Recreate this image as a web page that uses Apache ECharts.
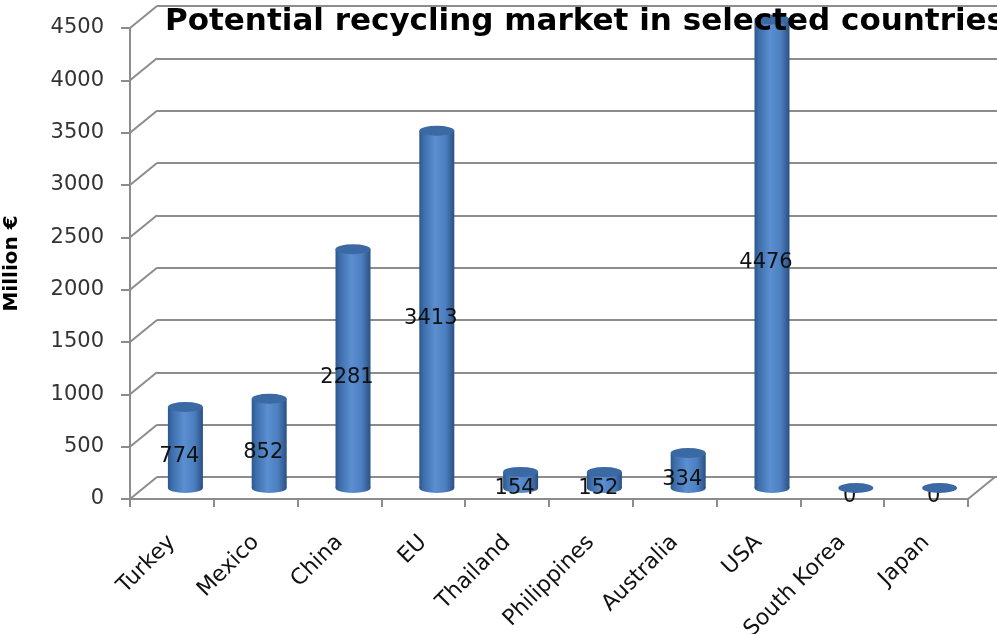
<!DOCTYPE html>
<html><head><meta charset="utf-8">
<script src="https://cdn.jsdelivr.net/npm/echarts@6/dist/echarts.min.js"></script>
<style>html,body{margin:0;padding:0;background:#fff}#c{width:997px;height:634px}</style>
</head><body><div id="c"></div>
<script>
var categories = ['Turkey','Mexico','China','EU','Thailand','Philippines','Australia','USA','South Korea','Japan'];
var values = [774, 852, 2281, 3413, 154, 152, 334, 4476, 0, 0];
var yTicks = [0, 500, 1000, 1500, 2000, 2500, 3000, 3500, 4000, 4500];
var titleText = 'Potential recycling market in selected countries';
var yName = 'Million €';

var DX = 27, DY = -22;
var gridColor = '#8c8c8c';
var barGrad = new echarts.graphic.LinearGradient(0,0,1,0,[
  {offset:0, color:'#2c578c'},{offset:0.12, color:'#3d6dab'},{offset:0.45, color:'#5b8fd1'},
  {offset:0.75, color:'#4c7fc0'},{offset:0.92, color:'#365f97'},{offset:1, color:'#2a4f82'}]);

var chart = echarts.init(document.getElementById('c'), null, {renderer:'canvas'});
chart.setOption({
  animation:false,
  backgroundColor:'#ffffff',
  title:{text:titleText, left:160, top:1, textStyle:{fontFamily:'DejaVu Sans', fontWeight:'bold', fontSize:31, color:'#000'}},
  grid:[
    {left:130, right:29, top:28, bottom:135, outerBoundsMode:'none', containLabel:false},
    {left:157, right:0, top:6, bottom:157, outerBoundsMode:'none', containLabel:false},
    {left:143.5, right:15.5, top:17, bottom:146, outerBoundsMode:'none', containLabel:false}
  ],
  xAxis:[
    {gridIndex:0, type:'category', data:categories, boundaryGap:true,
     axisLine:{lineStyle:{color:gridColor, width:2}},
     axisTick:{show:true, length:8, lineStyle:{color:gridColor, width:2}},
     axisLabel:{rotate:45, margin:40, fontFamily:'DejaVu Sans', fontSize:22, color:'#111', interval:0}},
    {gridIndex:1, type:'category', data:categories, show:false},
    {gridIndex:2, type:'category', data:categories, show:false}
  ],
  yAxis:[
    {gridIndex:0, type:'value', min:0, max:4500, interval:500,
     name:yName, nameLocation:'middle', nameGap:108, nameRotate:90,
     nameTextStyle:{fontFamily:'DejaVu Sans', fontWeight:'bold', fontSize:20, color:'#000'},
     axisLine:{show:true, lineStyle:{color:gridColor, width:2}},
     axisTick:{show:true, length:9, lineStyle:{color:gridColor, width:2}},
     axisLabel:{margin:26, fontFamily:'DejaVu Sans', fontSize:21, color:'#333', formatter:function(v){return String(v);}},
     splitLine:{show:false}},
    {gridIndex:1, type:'value', min:0, max:4500, interval:500,
     axisLine:{show:false}, axisTick:{show:false}, axisLabel:{show:false},
     splitLine:{show:true, lineStyle:{color:gridColor, width:2}}},
    {gridIndex:2, type:'value', min:0, max:4500, interval:500, show:false, splitLine:{show:false}}
  ],
  series:[
    {type:'custom', xAxisIndex:0, yAxisIndex:0, data:yTicks.map(function(v){return [0, v];}), silent:true, z:1,
     renderItem:function(params, api){
       var cs = params.coordSys;
       var v = api.value(1);
       var y = api.coord([0, v])[1];
       var children = [{type:'line', shape:{x1:cs.x, y1:y, x2:cs.x+DX, y2:y+DY},
         style:{stroke:gridColor, lineWidth:2}}];
       if (v === 0) {
         children.push({type:'line', shape:{x1:cs.x+cs.width, y1:y, x2:cs.x+cs.width+DX, y2:y+DY},
           style:{stroke:gridColor, lineWidth:2}});
       }
       return {type:'group', children:children};
     }},
    {type:'pictorialBar', xAxisIndex:2, yAxisIndex:2, data:values.map(function(v){return v>0?v:'-';}),
     symbol:'circle', symbolSize:[35,10], symbolPosition:'start', symbolOffset:[0,'50%'],
     itemStyle:{color:barGrad}, z:3, silent:true},
    {type:'bar', xAxisIndex:2, yAxisIndex:2, data:values, barWidth:35, z:4,
     itemStyle:{color:barGrad},
     label:{show:true, position:'inside', offset:[-6,9], fontFamily:'DejaVu Sans', fontSize:21, color:'#111'}},
    {type:'pictorialBar', xAxisIndex:2, yAxisIndex:2, data:values,
     symbol:'circle', symbolSize:[35,10], symbolPosition:'end', symbolOffset:[0,'-50%'],
     itemStyle:{color:'#3b69a4'}, z:5, silent:true}
  ]
});
</script></body></html>
